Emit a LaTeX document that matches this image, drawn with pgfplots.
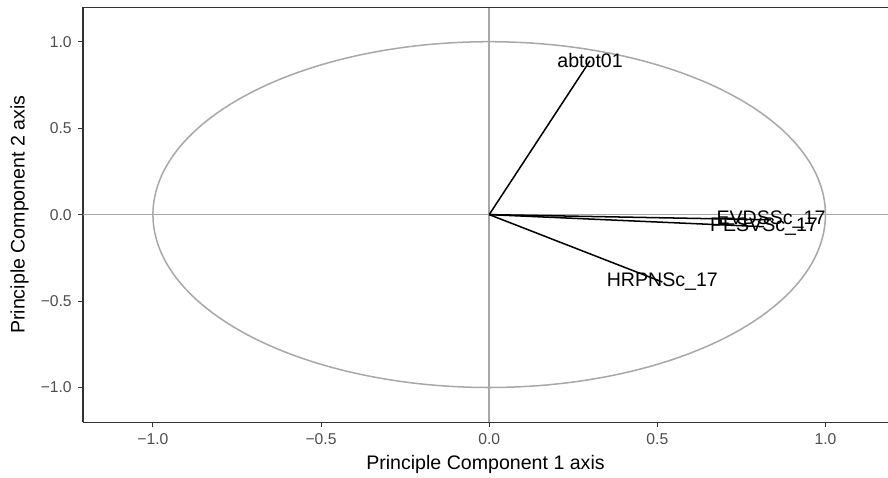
\documentclass[border=0pt]{standalone}
\usepackage{fontspec}
\setmainfont{Liberation Sans}
\usepackage{pgfplots}
\pgfplotsset{compat=1.18}

\definecolor{refgray}{RGB}{168,168,168}
\definecolor{framegray}{RGB}{51,51,51}
\definecolor{ticklab}{RGB}{77,77,77}

\begin{document}
\begin{tikzpicture}
\begin{axis}[
  scale only axis,
  width=452pt, height=233pt,
  xmin=-1.208, xmax=1.186,
  ymin=-1.2, ymax=1.2,
  axis x line*=bottom, axis y line*=left,
  x axis line style={-, framegray, line width=0.6pt},
  y axis line style={-, framegray, line width=0.6pt},
  xtick={-1,-0.5,0,0.5,1},
  ytick={-1,-0.5,0,0.5,1},
  xticklabels={−1.0,−0.5,0.0,0.5,1.0},
  yticklabels={−1.0,−0.5,0.0,0.5,1.0},
  tick align=outside,
  major tick length=2.8pt,
  tick style={framegray, line width=0.6pt},
  tick label style={font=\fontsize{8.8}{10}\selectfont, text=ticklab},
  xlabel={Principle Component 1 axis},
  ylabel={Principle Component 2 axis},
  label style={font=\fontsize{11}{13}\selectfont},
  xlabel style={at={(axis description cs:0.5,-0.103)}, anchor=center},
  ylabel style={at={(axis description cs:-0.0788,0.5)}, anchor=center},
  clip=true,
]
  % correlation circle and reference lines
  \addplot[refgray, line width=0.85pt, domain=0:360, samples=240, smooth]
    ({cos(x)}, {sin(x)});
  \addplot[refgray, line width=0.85pt] coordinates {(-1.21,0) (1.2,0)};
  \addplot[refgray, line width=0.85pt] coordinates {(0,-1.2) (0,1.2)};

  % variable loadings
  \addplot[black, line width=0.85pt] coordinates {(0,0) (0.30,0.89)}
    node[pos=1, font=\fontsize{11}{13}\selectfont] {abtot01};
  \addplot[black, line width=0.85pt] coordinates {(0,0) (0.838,-0.03)}
    node[pos=1, font=\fontsize{11}{13}\selectfont] {EVDSSc\_17};
  \addplot[black, line width=0.85pt] coordinates {(0,0) (0.817,-0.07)}
    node[pos=1, font=\fontsize{11}{13}\selectfont] {PESVSc\_17};
  \addplot[black, line width=0.85pt] coordinates {(0,0) (0.515,-0.39)}
    node[pos=1, font=\fontsize{11}{13}\selectfont] {HRPNSc\_17};

  \draw[framegray, line width=0.6pt] (rel axis cs:0,1) -- (rel axis cs:1,1);
\end{axis}
\pgfresetboundingbox
\path ([xshift=-46.6pt,yshift=-31pt]current axis.south west) rectangle ([yshift=4pt]current axis.north east);
\end{tikzpicture}
\end{document}
